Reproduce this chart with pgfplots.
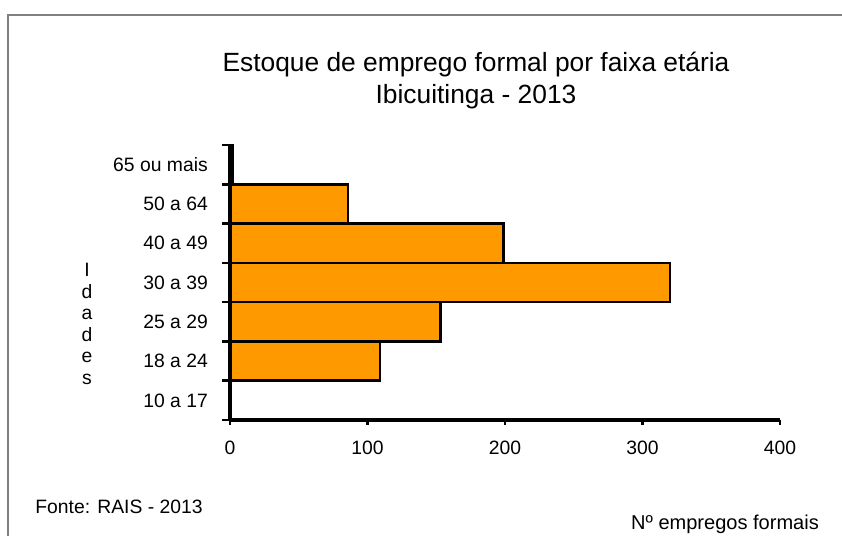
\documentclass[border=0pt]{standalone}
\usepackage{fontspec}
\setmainfont{Liberation Sans}
\usepackage{pgfplots}
\pgfplotsset{compat=1.18}
\definecolor{barorange}{HTML}{FF9900}

\begin{document}
\begin{tikzpicture}
% page of 842x536 px, 1 px = 0.02cm
\useasboundingbox (0,0) rectangle (16.84cm,10.72cm);
\draw[gray, line width=1pt] (0.16cm,0) -- (0.16cm,10.42cm) -- (16.84cm,10.42cm);

\node[align=center, font=\fontsize{15}{18.7}\selectfont] at (9.52cm,9.11cm)
  {Estoque de emprego formal por faixa etária\\Ibicuitinga - 2013};

\begin{axis}[
    at={(4.6cm,2.32cm)}, anchor=south west,
    scale only axis, width=11cm, height=5.5cm,
    xbar, bar width=1, bar shift=0,
    xmin=0, xmax=400, ymin=-0.5, ymax=6.5,
    axis lines*=left, axis on top,
    axis line style={line width=1.9pt, -},
    every outer x axis line/.append style={line width=1.9pt},
    every outer y axis line/.append style={line width=1.9pt},
    xtick={0,100,200,300,400},
    ytick={0,1,2,3,4,5,6},
    yticklabels={10 a 17, 18 a 24, 25 a 29, 30 a 39, 40 a 49, 50 a 64, 65 ou mais},
    minor ytick={-0.5,0.5,1.5,2.5,3.5,4.5,5.5,6.5},
    tick align=outside,
    major tick length=0.1cm, minor tick length=0.16cm,
    major x tick style={line width=1.4pt, black},
    major y tick style={draw=none},
    minor y tick style={line width=1.4pt, black},
    tick label style={font=\fontsize{11}{12}\selectfont},
    /pgf/number format/assume math mode=true,
    yticklabel style={anchor=east, xshift=-0.22cm},
    xticklabel style={yshift=-0.2cm},
    clip=false,
]
\addplot[fill=barorange, draw=black, line width=1.4pt] coordinates {
  (0,0) (109,1) (153,2) (320,3) (199,4) (86,5) (2,6)
};
\end{axis}

\node[align=center, font=\fontsize{11}{12.3}\selectfont] at (1.74cm,4.24cm)
  {I\\d\\a\\d\\e\\s};
\node[font=\fontsize{11.4}{12}\selectfont] at (14.5cm,0.24cm) {Nº empregos formais};
\node[font=\fontsize{11}{12}\selectfont] at (2.38cm,0.58cm) {Fonte: RAIS - 2013};
\end{tikzpicture}
\end{document}
